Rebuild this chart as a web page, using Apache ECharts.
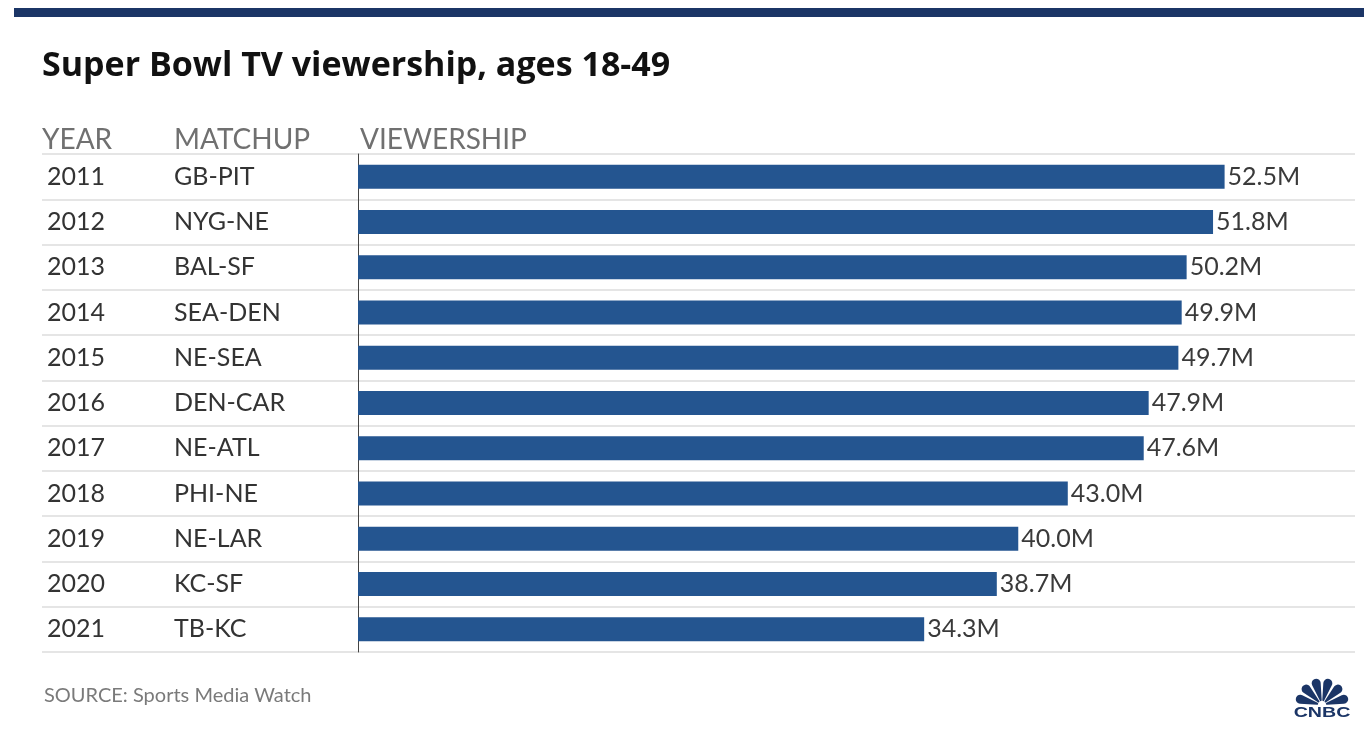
<!DOCTYPE html>
<html>
<head>
<meta charset="utf-8">
<script src="https://cdn.jsdelivr.net/npm/echarts@6/dist/echarts.min.js"></script>
<style>
html,body{margin:0;padding:0;background:#fff;}
#chart{width:1364px;height:729px;}
</style>
</head>
<body>
<div id="chart"></div>
<script>
const years = ['2011','2012','2013','2014','2015','2016','2017','2018','2019','2020','2021'];
const matchups = ['GB-PIT','NYG-NE','BAL-SF','SEA-DEN','NE-SEA','DEN-CAR','NE-ATL','PHI-NE','NE-LAR','KC-SF','TB-KC'];
const viewership = [52.5, 51.8, 50.2, 49.9, 49.7, 47.9, 47.6, 43.0, 40.0, 38.7, 34.3];
const headers = ['YEAR', 'MATCHUP', 'VIEWERSHIP'];

const FONT = 'Lato, "Open Sans", sans-serif';
const chart = echarts.init(document.getElementById('chart'));

const feathers = [];
for (let i = 0; i < 6; i++) {
  const a0 = Math.PI + i * Math.PI / 6 + 0.06;
  const a1 = Math.PI + (i + 1) * Math.PI / 6 - 0.06;
  feathers.push({
    type: 'sector',
    shape: { cx: 1322, cy: 705, r: 27, r0: 4, startAngle: a0, endAngle: a1, cornerRadius: 6 },
    style: { fill: '#1b3566' }
  });
}

chart.setOption({
  backgroundColor: '#fff',
  animation: false,
  title: [
    { text: 'Super Bowl TV viewership, ages 18-49', left: 37, top: 44,
      textStyle: { fontFamily: '"Open Sans", Lato, sans-serif', fontSize: 34, fontWeight: 'bold', color: '#111' } },
    { text: headers[0], left: 37, top: 121,
      textStyle: { fontFamily: FONT, fontSize: 28, fontWeight: 'normal', color: '#707070' } },
    { text: headers[1], left: 169, top: 121,
      textStyle: { fontFamily: FONT, fontSize: 28, fontWeight: 'normal', color: '#707070' } },
    { text: headers[2], left: 355, top: 121,
      textStyle: { fontFamily: FONT, fontSize: 28, fontWeight: 'normal', color: '#707070' } },
    { text: 'SOURCE: Sports Media Watch', left: 39, top: 681,
      textStyle: { fontFamily: FONT, fontSize: 20, fontWeight: 'normal', color: '#7a7a7a' } }
  ],
  graphic: [
    { type: 'rect', shape: { x: 14, y: 8, width: 1350, height: 9 }, style: { fill: '#1b3566' } },
    { type: 'group', children: feathers.concat([
      { type: 'text', x: 1322, y: 713, scaleX: 1.4,
        style: { x: 0, y: 0, text: 'CNBC', fill: '#1b3566',
        font: 'bold 14px "Liberation Sans", Arial, sans-serif', align: 'center', verticalAlign: 'middle' } }
    ]) }
  ],
  grid: [
    { left: 42, width: 316, top: 154, height: 498 },
    { left: 358, right: 9, top: 154, height: 498 }
  ],
  xAxis: [
    { gridIndex: 0, type: 'value', min: 0, max: 1, show: false },
    { gridIndex: 1, type: 'value', min: 0, max: 60.4, show: false }
  ],
  yAxis: [
    { gridIndex: 0, type: 'category', data: years, inverse: true,
      axisLine: { show: false }, axisTick: { show: false },
      splitLine: { show: true, lineStyle: { color: '#dcdcdc', width: 1.5 } },
      axisLabel: {
        inside: true, margin: 5, align: 'left',
        formatter: (v, i) => '{y|' + v + '}{m|' + matchups[i] + '}',
        rich: {
          y: { fontFamily: FONT, fontSize: 25, color: '#333', width: 127 },
          m: { fontFamily: FONT, fontSize: 25, color: '#333' }
        }
      }
    },
    { gridIndex: 1, type: 'category', data: years, inverse: true,
      axisLine: { show: true, lineStyle: { color: '#444', width: 1 } },
      axisTick: { show: false }, axisLabel: { show: false },
      splitLine: { show: true, lineStyle: { color: '#dcdcdc', width: 1.5 } }
    }
  ],
  series: [
    {
      type: 'bar', xAxisIndex: 1, yAxisIndex: 1, data: viewership,
      barWidth: 24,
      itemStyle: { color: '#245590' },
      label: {
        show: true, position: 'right', distance: 3,
        formatter: p => p.value.toFixed(1) + 'M',
        fontFamily: FONT, fontSize: 25, color: '#3a3a3a'
      }
    }
  ]
});
</script>
</body>
</html>
